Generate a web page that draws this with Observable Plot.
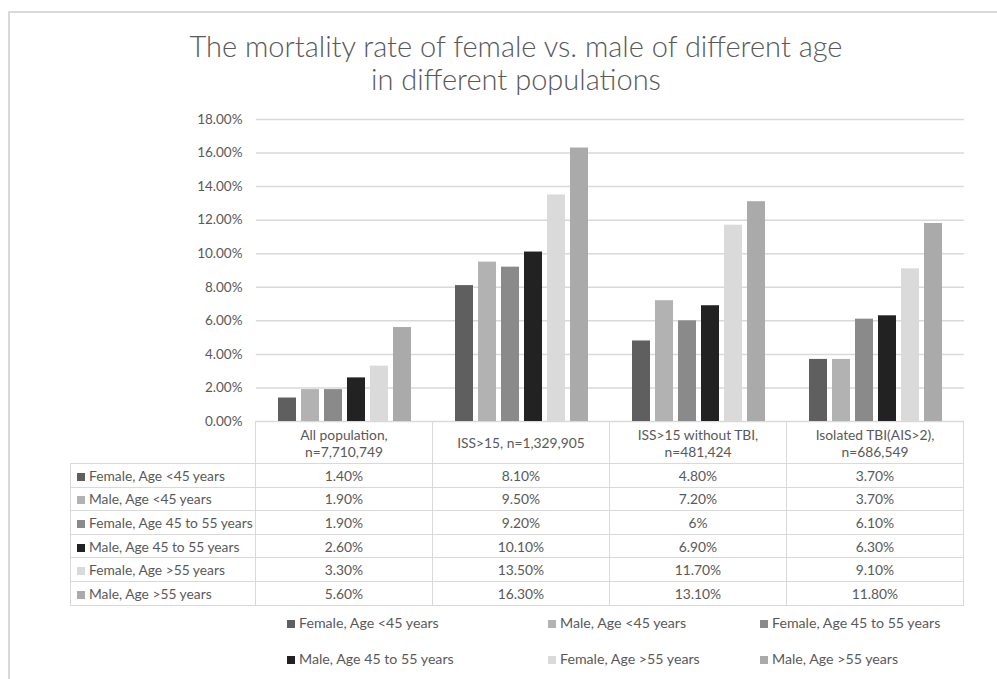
<!DOCTYPE html>
<html>
<head>
<meta charset="utf-8">
<script src="https://cdn.jsdelivr.net/npm/d3@7"></script>
<script src="https://cdn.jsdelivr.net/npm/@observablehq/plot@0.6"></script>
<style>
  html, body { margin: 0; padding: 0; background: #fff; }
  body { width: 997px; height: 679px; overflow: hidden; position: relative; font-family: Lato, "Open Sans", sans-serif; color: #595959; }
  #frame { position: absolute; left: 8px; top: 11px; width: 1100px; height: 800px; border: 2px solid #d9d9d9; box-sizing: border-box; }
  #title { position: absolute; left: 0; top: 29px; width: 1032px; text-align: center; font-size: 29px; line-height: 33px; font-weight: 300; color: #595959; }
  #chart { position: absolute; left: 0; top: 100px; }
  #table { position: absolute; left: 70px; top: 421px; border-collapse: collapse; font-size: 13.8px; color: #595959; }
  #table td { border: 1px solid #d9d9d9; padding: 0; text-align: center; height: 22.6px; white-space: pre-line; line-height: 17px; }
  #table tr.head td { height: 41px; }
  #table td.blank { border: none; }
  #table td.rowlab { text-align: left; padding-left: 6px; white-space: nowrap; }
  .sw { display: inline-block; width: 8px; height: 8px; margin-right: 4px; vertical-align: 0px; }
  #legend { position: absolute; left: 287px; top: 604px; display: grid; grid-template-columns: 261px 212px 220px; grid-auto-rows: 36px; font-size: 14.2px; color: #595959; align-items: center; }
</style>
</head>
<body>
<div id="frame"></div>
<div id="title">The mortality rate of female vs. male of different age<br>in different populations</div>
<div id="chart"></div>
<table id="table"></table>
<div id="legend"></div>
<script>
// ---- data ----
const categories = [
  "All population,\nn=7,710,749",
  "ISS>15, n=1,329,905",
  "ISS>15 without TBI,\nn=481,424",
  "Isolated TBI(AIS>2),\nn=686,549"
];
const series = [
  "Female, Age <45 years",
  "Male, Age <45 years",
  "Female, Age 45 to 55 years",
  "Male, Age 45 to 55 years",
  "Female, Age >55 years",
  "Male, Age >55 years"
];
const femaleUnder45 = [1.40, 8.10, 4.80, 3.70];
const maleUnder45   = [1.90, 9.50, 7.20, 3.70];
const female45to55  = [1.90, 9.20, 6.00, 6.10];
const male45to55    = [2.60, 10.10, 6.90, 6.30];
const femaleOver55  = [3.30, 13.50, 11.70, 9.10];
const maleOver55    = [5.60, 16.30, 13.10, 11.80];
const tableLabels = [
  ["1.40%", "8.10%", "4.80%", "3.70%"],
  ["1.90%", "9.50%", "7.20%", "3.70%"],
  ["1.90%", "9.20%", "6%", "6.10%"],
  ["2.60%", "10.10%", "6.90%", "6.30%"],
  ["3.30%", "13.50%", "11.70%", "9.10%"],
  ["5.60%", "16.30%", "13.10%", "11.80%"]
];
const yTicks = [0, 2, 4, 6, 8, 10, 12, 14, 16, 18];
const colors = ["#5f5f5f", "#b2b2b2", "#8a8a8a", "#222222", "#dadada", "#aaaaaa"];

const seriesValues = [femaleUnder45, maleUnder45, female45to55, male45to55, femaleOver55, maleOver55];
const data = [];
series.forEach((s, i) => categories.forEach((c, j) => data.push({series: s, category: c, value: seriesValues[i][j] / 100})));

const chart = Plot.plot({
  width: 997,
  height: 340,
  marginLeft: 255,
  marginRight: 33,
  marginTop: 19,
  marginBottom: 19,
  style: {fontFamily: "Lato, 'Open Sans', sans-serif", fontSize: "13.5px", color: "#595959", background: "transparent"},
  fx: {domain: categories, padding: 0, axis: null, label: null},
  x: {domain: series, paddingInner: 0.21, paddingOuter: 0.87, axis: null, label: null},
  y: {domain: [0, 0.18], label: null},
  color: {domain: series, range: colors},
  marks: [
    Plot.gridY(yTicks.map(d => d / 100), {stroke: "#d9d9d9", strokeOpacity: 1, strokeWidth: 1.5}),
    Plot.axisY(yTicks.map(d => d / 100), {tickSize: 0, tickPadding: 14, tickFormat: d => (d * 100).toFixed(2) + "%", fill: "#595959", label: null}),
    Plot.barY(data, {fx: "category", x: "series", y: "value", fill: "series"})
  ]
});
document.getElementById("chart").appendChild(chart);

// ---- table aligned with the fx scale ----
const fxScale = chart.scale("fx");
const colW = fxScale.bandwidth !== undefined ? fxScale.bandwidth : 177.25;
const table = document.getElementById("table");
const colgroup = document.createElement("colgroup");
[185].concat(categories.map(() => colW)).forEach(w => {
  const col = document.createElement("col");
  col.style.width = w + "px";
  colgroup.appendChild(col);
});
table.appendChild(colgroup);
const head = document.createElement("tr");
head.className = "head";
const blank = document.createElement("td");
blank.className = "blank";
head.appendChild(blank);
categories.forEach(c => {
  const td = document.createElement("td");
  td.textContent = c;
  head.appendChild(td);
});
table.appendChild(head);
series.forEach((s, i) => {
  const tr = document.createElement("tr");
  const lab = document.createElement("td");
  lab.className = "rowlab";
  lab.innerHTML = `<span class="sw" style="background:${colors[i]}"></span>`;
  lab.appendChild(document.createTextNode(s));
  tr.appendChild(lab);
  tableLabels[i].forEach(t => {
    const td = document.createElement("td");
    td.textContent = t;
    tr.appendChild(td);
  });
  table.appendChild(tr);
});

// ---- legend ----
const legend = document.getElementById("legend");
series.forEach((s, i) => {
  const d = document.createElement("div");
  d.innerHTML = `<span class="sw" style="background:${colors[i]}"></span>`;
  d.appendChild(document.createTextNode(s));
  legend.appendChild(d);
});
</script>
</body>
</html>
